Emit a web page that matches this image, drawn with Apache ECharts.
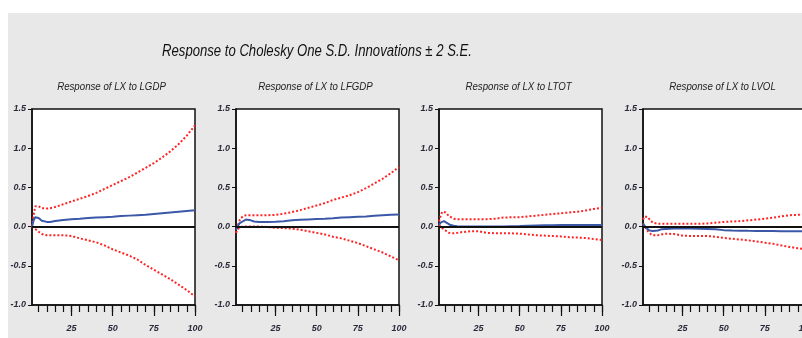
<!DOCTYPE html>
<html>
<head>
<meta charset="utf-8">
<script src="https://cdn.jsdelivr.net/npm/echarts@6/dist/echarts.min.js"></script>
<style>
  html, body { margin: 0; padding: 0; background: #fff; }
  #wrap { position: relative; width: 802px; height: 338px; overflow: hidden; }
  #bg { position: absolute; left: 8px; top: 13px; right: 0; bottom: 0; background: #e8e8e8; }
  #chart { position: absolute; left: 0; top: 0; width: 802px; height: 338px; }
</style>
</head>
<body>
<div id="wrap"><div id="bg"></div><div id="chart"></div></div>
<script>
const periods = [1, 2, 3, 4, 5, 6, 7, 8, 10, 12, 15, 20, 25, 30, 35, 40, 45, 50, 55, 60, 65, 70, 75, 80, 85, 90, 95, 100];
const horizon = Array.from({ length: 100 }, (_, i) => String(i + 1)); // x categories 1..100
const xTickLabels = ["25", "50", "75", "100"];

const mainTitle = "Response to Cholesky One S.D. Innovations \u00b1 2 S.E.";
const panelTitles = ["Response of LX to LGDP", "Response of LX to LFGDP", "Response of LX to LTOT", "Response of LX to LVOL"];

// LX to LGDP
const respLGDP = [0.0, 0.08, 0.12, 0.12, 0.11, 0.09, 0.075, 0.065, 0.06, 0.06, 0.07, 0.085, 0.095, 0.10, 0.11, 0.115, 0.12, 0.125, 0.135, 0.14, 0.145, 0.15, 0.16, 0.17, 0.18, 0.19, 0.20, 0.21];
const upperLGDP = [0.0, 0.15, 0.26, 0.27, 0.26, 0.245, 0.235, 0.23, 0.23, 0.235, 0.25, 0.285, 0.32, 0.355, 0.39, 0.43, 0.48, 0.53, 0.58, 0.63, 0.69, 0.75, 0.81, 0.88, 0.96, 1.05, 1.16, 1.29];
const lowerLGDP = [0.0, -0.01, -0.03, -0.05, -0.065, -0.08, -0.095, -0.105, -0.11, -0.11, -0.11, -0.11, -0.12, -0.15, -0.175, -0.2, -0.24, -0.29, -0.33, -0.37, -0.42, -0.49, -0.55, -0.61, -0.67, -0.74, -0.81, -0.89];

// LX to LFGDP
const respLFGDP = [-0.04, 0.0, 0.04, 0.055, 0.065, 0.08, 0.09, 0.095, 0.08, 0.065, 0.06, 0.06, 0.062, 0.068, 0.08, 0.088, 0.092, 0.096, 0.1, 0.105, 0.115, 0.12, 0.125, 0.13, 0.138, 0.145, 0.15, 0.155];
const upperLFGDP = [-0.08, 0.0, 0.07, 0.11, 0.13, 0.14, 0.145, 0.145, 0.145, 0.145, 0.145, 0.145, 0.15, 0.165, 0.185, 0.21, 0.24, 0.27, 0.3, 0.34, 0.37, 0.40, 0.44, 0.49, 0.55, 0.61, 0.68, 0.76];
const lowerLFGDP = [-0.08, -0.04, -0.01, 0.0, 0.0, 0.0, 0.0, 0.0, 0.0, 0.0, 0.0, -0.005, -0.015, -0.02, -0.025, -0.04, -0.06, -0.08, -0.1, -0.13, -0.15, -0.18, -0.21, -0.25, -0.29, -0.33, -0.38, -0.43];

// LX to LTOT
const respLTOT = [0.02, 0.05, 0.07, 0.07, 0.06, 0.045, 0.03, 0.02, 0.01, 0.005, 0.0, 0.0, 0.0, 0.0, 0.0, 0.002, 0.005, 0.008, 0.012, 0.015, 0.017, 0.018, 0.02, 0.02, 0.02, 0.02, 0.02, 0.02];
const upperLTOT = [0.065, 0.14, 0.19, 0.2, 0.18, 0.155, 0.135, 0.12, 0.1, 0.095, 0.095, 0.095, 0.095, 0.095, 0.1, 0.115, 0.12, 0.12, 0.13, 0.14, 0.15, 0.16, 0.17, 0.18, 0.19, 0.205, 0.225, 0.24];
const lowerLTOT = [0.02, 0.0, -0.02, -0.035, -0.05, -0.065, -0.08, -0.085, -0.085, -0.08, -0.07, -0.06, -0.06, -0.08, -0.085, -0.085, -0.085, -0.09, -0.1, -0.11, -0.115, -0.12, -0.125, -0.135, -0.14, -0.145, -0.16, -0.17];

// LX to LVOL
const respLVOL = [0.04, 0.01, -0.02, -0.04, -0.05, -0.055, -0.055, -0.055, -0.05, -0.035, -0.03, -0.025, -0.025, -0.025, -0.028, -0.03, -0.035, -0.045, -0.05, -0.052, -0.054, -0.055, -0.056, -0.057, -0.058, -0.058, -0.059, -0.06];
const upperLVOL = [0.09, 0.13, 0.14, 0.12, 0.09, 0.065, 0.05, 0.04, 0.035, 0.035, 0.035, 0.035, 0.035, 0.035, 0.035, 0.04, 0.05, 0.06, 0.065, 0.07, 0.08, 0.09, 0.1, 0.115, 0.13, 0.145, 0.15, 0.155];
const lowerLVOL = [0.04, 0.0, -0.03, -0.06, -0.085, -0.1, -0.11, -0.11, -0.11, -0.1, -0.09, -0.095, -0.115, -0.12, -0.12, -0.12, -0.13, -0.145, -0.155, -0.165, -0.175, -0.19, -0.205, -0.22, -0.24, -0.26, -0.275, -0.29];

const panels = [
  { resp: respLGDP, upper: upperLGDP, lower: lowerLGDP },
  { resp: respLFGDP, upper: upperLFGDP, lower: lowerLFGDP },
  { resp: respLTOT, upper: upperLTOT, lower: lowerLTOT },
  { resp: respLVOL, upper: upperLVOL, lower: lowerLVOL },
];

const chart = echarts.init(document.getElementById("chart"), null, { renderer: "canvas" });

const FONT = "'Liberation Sans', Arial, sans-serif";
const gridLefts = [32, 236, 439, 643];
const gridTop = 109, gridW = 163, gridH = 196;
const blue = "#3b57a8", red = "#ff2424";

const toPairs = (vals) => periods.map((p, i) => [String(p), vals[i]]);

const grids = [], xAxes = [], yAxes = [], series = [], graphics = [];

// titles are squeezed horizontally to look like the narrow font of the original
graphics.push({
  type: "text", x: 317, y: 52, scaleX: 0.82,
  style: { text: mainTitle, textAlign: "center", textVerticalAlign: "middle", font: "italic 16px " + FONT, fill: "#111" },
});

panels.forEach((p, k) => {
  grids.push({
    left: gridLefts[k], top: gridTop, width: gridW, height: gridH,
    outerBoundsMode: "none",
    show: true, backgroundColor: "#fff", borderColor: "#111", borderWidth: 1.5,
  });
  graphics.push({
    type: "text", x: gridLefts[k] + gridW / 2 - 2, y: 87, scaleX: 0.88,
    style: { text: panelTitles[k], textAlign: "center", textVerticalAlign: "middle", font: "italic 11px " + FONT, fill: "#222" },
  });

  // minor ticks every 5 periods, carries the axis line
  xAxes.push({
    type: "category", gridIndex: k, position: "bottom", data: horizon, boundaryGap: false,
    axisLine: { show: true, onZero: false, lineStyle: { color: "#111", width: 1.5 } },
    axisTick: { show: true, interval: (i) => (i + 1) % 5 === 0, length: 7, lineStyle: { color: "#111", width: 1.2 } },
    axisLabel: { show: false }, splitLine: { show: false },
  });
  // longer ticks + labels at 25, 50, 75, 100
  xAxes.push({
    type: "category", gridIndex: k, position: "bottom", data: horizon, boundaryGap: false,
    axisLine: { show: false, onZero: false },
    axisTick: { show: true, interval: (i, v) => xTickLabels.includes(v), length: 11, lineStyle: { color: "#111", width: 1.2 } },
    axisLabel: {
      show: true, interval: (i, v) => xTickLabels.includes(v), margin: 19,
      fontFamily: FONT, fontSize: 9, fontStyle: "italic", fontWeight: "bold", color: "#2a2a3a",
    },
    splitLine: { show: false },
  });

  yAxes.push({
    type: "value", gridIndex: k, min: -1, max: 1.5, interval: 0.5,
    axisLine: { show: true, lineStyle: { color: "#111", width: 1.5 } },
    axisTick: { show: true, length: 4, lineStyle: { color: "#111" } },
    axisLabel: {
      margin: 6, formatter: (v) => v.toFixed(1),
      fontFamily: FONT, fontSize: 9, fontStyle: "italic", fontWeight: "bold", color: "#2a2a3a",
    },
    splitLine: { show: false },
  });

  const bandStyle = { color: red, width: 2, type: [2, 2] };
  series.push({
    type: "line", xAxisIndex: 2 * k, yAxisIndex: k, data: toPairs(p.upper),
    showSymbol: false, lineStyle: bandStyle, z: 3,
  });
  series.push({
    type: "line", xAxisIndex: 2 * k, yAxisIndex: k, data: toPairs(p.lower),
    showSymbol: false, lineStyle: bandStyle, z: 3,
  });
  series.push({
    type: "line", xAxisIndex: 2 * k, yAxisIndex: k, data: toPairs(p.resp),
    showSymbol: false, lineStyle: { color: blue, width: 2 }, z: 4,
    // zero line across the panel
    markLine: {
      silent: true, symbol: "none", label: { show: false },
      lineStyle: { color: "#111", width: 2, type: "solid" },
      data: [{ yAxis: 0 }],
    },
  });
});

chart.setOption({
  animation: false,
  backgroundColor: "transparent",
  grid: grids,
  xAxis: xAxes,
  yAxis: yAxes,
  series: series,
  graphic: graphics,
});
</script>
</body>
</html>
